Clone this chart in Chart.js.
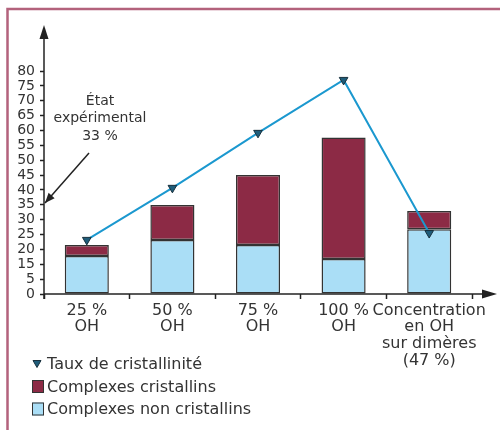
<!DOCTYPE html>
<html>
<head>
<meta charset="utf-8">
<script src="https://cdn.jsdelivr.net/npm/chart.js@4.4.1/dist/chart.umd.min.js"></script>
<style>
  html, body { margin: 0; padding: 0; background: #fff; }
  #wrap { width: 500px; height: 430px; position: relative; }
</style>
</head>
<body>
<div id="wrap"><canvas id="chart" width="500" height="430"></canvas></div>
<script>
// ========== DATA ==========
const categories = [
    ['25 %', 'OH'],
    ['50 %', 'OH'],
    ['75 %', 'OH'],
    ['100 %', 'OH'],
    ['Concentration', 'en OH', 'sur dimères', '(47 %)']
];
// values read against the printed axis labels
const nonCristallins = [17.8, 23.2, 21.5, 16.8, 26.8];
const cristallins = [3.7, 11.7, 23.5, 40.8, 6.1];
const tauxCristallinite = [23.2, 40.7, 59.2, 77.0, 25.5];
// the printed axis has 16 evenly spaced marks and skips "10"
const yTickLabels = [0, 5, 15, 20, 25, 30, 35, 40, 45, 50, 55, 60, 65, 70, 75, 80];
const annotationLines = ['État', 'expérimental', '33 %'];

const FONT = '"DejaVu Sans", Verdana, sans-serif';
const TEXT = '#333';
const AXIS = '#222';
const MAROON = '#8c2a45';
const SKY = '#aadef6';
const LINE_BLUE = '#1b98cf';
const MARKER = '#1f5d7a';

// ========== FRAME ==========
const framePlugin = {
    id: 'frame',
    beforeDraw(chart) {
        const c = chart.ctx;
        c.save();
        c.strokeStyle = '#b3627c';
        c.lineWidth = 2.5;
        c.beginPath();
        c.moveTo(7.5, 430);
        c.lineTo(7.5, 9);
        c.lineTo(500, 9);
        c.stroke();
        c.restore();
    }
};

// ========== AXES WITH ARROWS ==========
const axesPlugin = {
    id: 'axesArrows',
    afterDatasetsDraw(chart) {
        const c = chart.ctx;
        const a = chart.chartArea;
        c.save();
        c.strokeStyle = AXIS;
        c.fillStyle = AXIS;
        c.lineWidth = 1.5;
        // y axis
        c.beginPath();
        c.moveTo(a.left, a.bottom + 5);
        c.lineTo(a.left, 34);
        c.stroke();
        c.beginPath();
        c.moveTo(a.left, 25);
        c.lineTo(a.left - 4.5, 39);
        c.lineTo(a.left + 4.5, 39);
        c.closePath();
        c.fill();
        // x axis
        c.beginPath();
        c.moveTo(a.left, a.bottom);
        c.lineTo(488, a.bottom);
        c.stroke();
        c.beginPath();
        c.moveTo(497, a.bottom);
        c.lineTo(482, a.bottom - 4.5);
        c.lineTo(482, a.bottom + 4.5);
        c.closePath();
        c.fill();
        c.restore();
    }
};

// ========== ANNOTATION "État expérimental" ==========
const annotationPlugin = {
    id: 'etat',
    afterDraw(chart) {
        const c = chart.ctx;
        const tipX = chart.chartArea.left + 1;
        const tipY = 203;
        c.save();
        c.fillStyle = TEXT;
        c.font = '14px ' + FONT;
        c.textAlign = 'center';
        c.textBaseline = 'middle';
        annotationLines.forEach((t, i) => c.fillText(t, 100, 101 + i * 17.5));
        // arrow
        const fromX = 89, fromY = 153;
        c.strokeStyle = '#222';
        c.fillStyle = '#222';
        c.lineWidth = 1.5;
        c.beginPath();
        c.moveTo(fromX, fromY);
        c.lineTo(tipX, tipY);
        c.stroke();
        const ang = Math.atan2(tipY - fromY, tipX - fromX);
        const len = 10, half = 4;
        c.beginPath();
        c.moveTo(tipX, tipY);
        c.lineTo(tipX - len * Math.cos(ang) + half * Math.sin(ang), tipY - len * Math.sin(ang) - half * Math.cos(ang));
        c.lineTo(tipX - len * Math.cos(ang) - half * Math.sin(ang), tipY - len * Math.sin(ang) + half * Math.cos(ang));
        c.closePath();
        c.fill();
        c.restore();
    }
};

// ========== LEGEND ==========
const legendPlugin = {
    id: 'vlegend',
    afterDraw(chart) {
        const c = chart.ctx;
        const ds = chart.data.datasets;
        const order = [0, 2, 1];
        const rows = [364, 386.5, 409];
        c.save();
        c.font = '16px ' + FONT;
        c.textBaseline = 'middle';
        c.textAlign = 'left';
        order.forEach((di, i) => {
            const d = ds[di];
            const y = rows[i];
            if (d.type === 'line') {
                c.fillStyle = d.pointBackgroundColor;
                c.strokeStyle = d.pointBorderColor;
                c.lineWidth = 1;
                c.beginPath();
                c.moveTo(33, y - 3.5);
                c.lineTo(41, y - 3.5);
                c.lineTo(37, y + 3.5);
                c.closePath();
                c.fill();
                c.stroke();
            } else {
                c.fillStyle = d.backgroundColor;
                c.fillRect(32, y - 6.5, 12, 13);
                c.strokeStyle = '#333';
                c.lineWidth = 1;
                c.strokeRect(32.5, y - 6, 11, 12);
            }
            c.fillStyle = TEXT;
            c.fillText(d.label, 47, y + 1);
        });
        c.restore();
    }
};

// ========== CHART ==========
const ctx = document.getElementById('chart').getContext('2d');
const myChart = new Chart(ctx, {
    data: {
        labels: categories,
        datasets: [
            {
                type: 'line',
                label: 'Taux de cristallinité',
                data: tauxCristallinite,
                borderColor: LINE_BLUE,
                borderWidth: 2,
                tension: 0,
                pointStyle: 'triangle',
                rotation: 180,
                pointRadius: 5,
                pointBackgroundColor: MARKER,
                pointBorderColor: '#17303d',
                pointBorderWidth: 1,
                order: 0
            },
            {
                type: 'bar',
                label: 'Complexes non cristallins',
                data: nonCristallins,
                base: 5,            // bottom of the printed axis ("0" mark)
                backgroundColor: SKY,
                borderColor: '#333',
                borderWidth: 1.5,
                borderSkipped: false,
                barPercentage: 0.515,
                categoryPercentage: 1,
                order: 1
            },
            {
                type: 'bar',
                label: 'Complexes cristallins',
                data: cristallins,
                backgroundColor: MAROON,
                borderColor: '#333',
                borderWidth: 1.5,
                borderSkipped: false,
                barPercentage: 0.515,
                categoryPercentage: 1,
                order: 1
            }
        ]
    },
    options: {
        responsive: false,
        animation: false,
        devicePixelRatio: 1,
        layout: {
            padding: { left: 8, top: 71, right: 28, bottom: 0 }
        },
        plugins: {
            legend: { display: false },
            tooltip: { enabled: false }
        },
        scales: {
            x: {
                stacked: true,
                offset: true,
                border: { display: false },
                grid: {
                    drawOnChartArea: false,
                    offset: true,
                    tickLength: 5,
                    tickWidth: 1.5,
                    tickColor: (c) => c.index === categories.length ? 'rgba(0,0,0,0)' : AXIS
                },
                ticks: {
                    color: TEXT,
                    font: { family: FONT, size: 16, lineHeight: 1.05 },
                    maxRotation: 0,
                    minRotation: 0,
                    autoSkip: false,
                    padding: 3
                },
                afterFit: (scale) => { scale.height = 136; }
            },
            y: {
                stacked: true,
                min: 5,
                max: 80,
                border: { display: false },
                grid: {
                    drawOnChartArea: false,
                    tickLength: 4,
                    tickWidth: 1.5,
                    tickColor: AXIS
                },
                ticks: {
                    stepSize: 5,
                    autoSkip: false,
                    color: TEXT,
                    font: { family: FONT, size: 14 },
                    padding: 5,
                    callback: (v, i) => String(yTickLabels[i])
                },
                afterFit: (scale) => { scale.width = 36; }
            }
        }
    },
    plugins: [framePlugin, axesPlugin, annotationPlugin, legendPlugin]
});
</script>
</body>
</html>
